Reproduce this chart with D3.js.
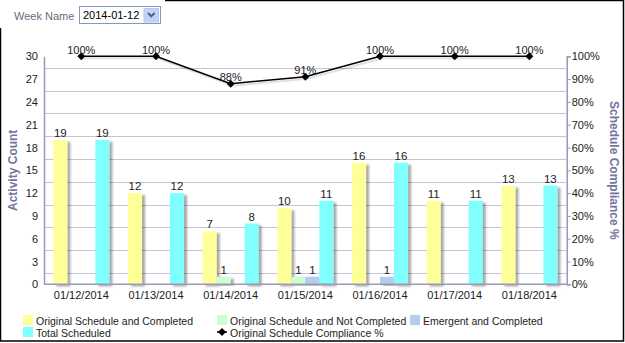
<!DOCTYPE html>
<html><head><meta charset="utf-8">
<script src="https://cdn.jsdelivr.net/npm/d3@7/dist/d3.min.js"></script>
<style>
html,body{margin:0;padding:0;background:#fff;}
svg{display:block;font-family:"Liberation Sans",Arial,sans-serif;}
</style></head>
<body><svg id="c" width="625" height="343"></svg>
<script>
const categories = ["01/12/2014","01/13/2014","01/14/2014","01/15/2014","01/16/2014","01/17/2014","01/18/2014"];
const seriesNames = ["Original Schedule and Completed","Original Schedule and Not Completed","Emergent and Completed","Total Scheduled"];
const origCompleted = [19,12,7,10,16,11,13];
const origNotCompleted = [0,0,1,1,0,0,0];
const emergentCompleted = [0,0,0,1,1,0,0];
const totalScheduled = [19,12,8,11,16,11,13];
const compliance = [100,100,88,91,100,100,100];
const leftTicks = [0,3,6,9,12,15,18,21,24,27,30];
const rightTicks = [0,10,20,30,40,50,60,70,80,90,100];
const gridValues = [1.5,4.5,7.5,10.5,13.5,16.5,19.5,22.5,25.5,28.5];
const colors = ["#FFFF99","#CCFFCC","#B3CDEE","#80FFFF"];
const seriesValues = [origCompleted, origNotCompleted, emergentCompleted, totalScheduled];
const lineName = "Original Schedule Compliance %";

const svg = d3.select("#c");
const L = 44, R = 566.7, T = 56.3, B = 284.3;

const defs = svg.append("defs");
const f = defs.append("filter").attr("id","sh").attr("x","-20%").attr("y","-10%").attr("width","160%").attr("height","130%");
f.append("feGaussianBlur").attr("in","SourceAlpha").attr("stdDeviation",1.3).attr("result","b");
f.append("feOffset").attr("in","b").attr("dx",3).attr("dy",2).attr("result","o");
f.append("feComponentTransfer").attr("in","o").attr("result","o2").append("feFuncA").attr("type","linear").attr("slope",0.35);
const m = f.append("feMerge"); m.append("feMergeNode").attr("in","o2"); m.append("feMergeNode").attr("in","SourceGraphic");

// frame
svg.append("path").attr("d","M165,0.5 H623.5 V341 H0.5 V28").attr("fill","none").attr("stroke","#000").attr("stroke-width",1.5);

// week selector
svg.append("text").attr("x",14).attr("y",20).attr("font-size",11).attr("fill","#6a6a7a").text("Week Name");
svg.append("rect").attr("x",79.5).attr("y",6.5).attr("width",81).attr("height",17).attr("fill","#fff").attr("stroke","#7F9DB9");
svg.append("text").attr("x",83).attr("y",19).attr("font-size",11).attr("fill","#000").text("2014-01-12");
svg.append("rect").attr("x",144).attr("y",8.5).attr("width",14.5).attr("height",13.5).attr("fill","#C1D3FB").attr("stroke","#B4C8F0");
svg.append("path").attr("d","M148,13 L151.3,16.3 L154.6,13").attr("fill","none").attr("stroke","#4d6185").attr("stroke-width",2);

const x = d3.scaleBand().domain(categories).range([L,R]).paddingInner(0.25).paddingOuter(0.125);
const xi = d3.scaleBand().domain(d3.range(4)).range([0,x.bandwidth()]);
const y = d3.scaleLinear().domain([0,30]).range([B,T]);
const yr = d3.scaleLinear().domain([0,100]).range([B,T]);

// grid
svg.append("g").selectAll("line").data(gridValues).join("line")
  .attr("x1",L).attr("x2",R).attr("y1",d=>Math.round(y(d))+0.5).attr("y2",d=>Math.round(y(d))+0.5)
  .attr("stroke","#C4C4D8").attr("stroke-width",1);

// bars
const g = svg.append("g");
seriesValues.forEach((vals,si)=>{
  g.append("g").selectAll("rect").data(vals.map((v,i)=>({v,c:categories[i]})).filter(d=>d.v>0)).join("rect")
    .attr("x",d=>x(d.c)+xi(si)).attr("y",d=>y(d.v)).attr("width",xi.bandwidth()).attr("height",d=>B-y(d.v))
    .attr("fill",colors[si]).attr("filter","url(#sh)");
});
seriesValues.forEach((vals,si)=>{
  g.append("g").selectAll("text").data(vals.map((v,i)=>({v,c:categories[i]})).filter(d=>d.v>0)).join("text")
    .attr("x",d=>x(d.c)+xi(si)+xi.bandwidth()/2).attr("y",d=>y(d.v)-3).attr("text-anchor","middle")
    .attr("font-size",11.5).attr("fill","#222").text(d=>d.v);
});

// axes
const axL = svg.append("g").attr("transform",`translate(${L},0)`).call(d3.axisLeft(y).tickValues(leftTicks).tickSize(0).tickPadding(6));
const axR = svg.append("g").attr("transform",`translate(${R},0)`).call(d3.axisRight(yr).tickValues(rightTicks).tickSize(4).tickPadding(1).tickFormat(d=>d+"%"));
const axB = svg.append("g").attr("transform",`translate(0,${B})`).call(d3.axisBottom(x).tickSize(0).tickPadding(7));
[axL,axR,axB].forEach(a=>{
  a.selectAll(".domain").attr("stroke","#9999B8").attr("stroke-width",1.5);
  a.selectAll(".tick line").attr("stroke","#9999B8");
  a.selectAll("text").attr("font-size",11).attr("fill","#222").attr("font-family","'Liberation Sans',Arial,sans-serif");
});
axB.select(".domain").attr("d",`M${L},0H${R}`);

// line
const pts = compliance.map((v,i)=>[x(categories[i])+x.bandwidth()/2, yr(v)]);
const lg = svg.append("g");
lg.append("path").attr("d",d3.line()(pts.map(p=>[p[0]+2,p[1]+2]))).attr("fill","none").attr("stroke","#000").attr("stroke-opacity",0.12).attr("stroke-width",2);
lg.append("path").attr("d",d3.line()(pts)).attr("fill","none").attr("stroke","#000").attr("stroke-width",1.5);
lg.selectAll("path.m").data(pts).join("path").attr("class","m")
  .attr("d",d=>`M${d[0]},${d[1]-4}L${d[0]+4},${d[1]}L${d[0]},${d[1]+4}L${d[0]-4},${d[1]}Z`).attr("fill","#000");
lg.selectAll("text").data(compliance).join("text")
  .attr("x",(d,i)=>pts[i][0]).attr("y",(d,i)=>pts[i][1]-2.5).attr("text-anchor","middle")
  .attr("font-size",11).attr("fill","#222").text(d=>d+"%");

// axis titles
svg.append("text").attr("transform",`translate(17,${(T+B)/2}) rotate(-90)`).attr("text-anchor","middle")
  .attr("font-size",12).attr("font-weight","bold").attr("fill","#7474A0").text("Activity Count");
svg.append("text").attr("transform",`translate(610,${(T+B)/2}) rotate(90)`).attr("text-anchor","middle")
  .attr("font-size",12).attr("font-weight","bold").attr("fill","#7474A0").text("Schedule Compliance %");

// legend
const legend = [
  {name:seriesNames[0], c:colors[0], x:23, y:315},
  {name:seriesNames[1], c:colors[1], x:217, y:315},
  {name:seriesNames[2], c:colors[2], x:410, y:315},
  {name:seriesNames[3], c:colors[3], x:23, y:327},
  {name:lineName, c:null, x:217, y:327}
];
const lgd = svg.append("g");
legend.forEach(it=>{
  if(it.c){
    lgd.append("rect").attr("x",it.x).attr("y",it.y).attr("width",10).attr("height",10).attr("fill",it.c);
  } else {
    lgd.append("line").attr("x1",it.x).attr("x2",it.x+10).attr("y1",it.y+5).attr("y2",it.y+5).attr("stroke","#000").attr("stroke-width",1.5);
    lgd.append("path").attr("d",`M${it.x+5},${it.y+1}L${it.x+9},${it.y+5}L${it.x+5},${it.y+9}L${it.x+1},${it.y+5}Z`).attr("fill","#000");
  }
  lgd.append("text").attr("x",it.x+13).attr("y",it.y+9.5).attr("font-size",10.5).attr("fill","#222").text(it.name);
});
</script></body></html>
